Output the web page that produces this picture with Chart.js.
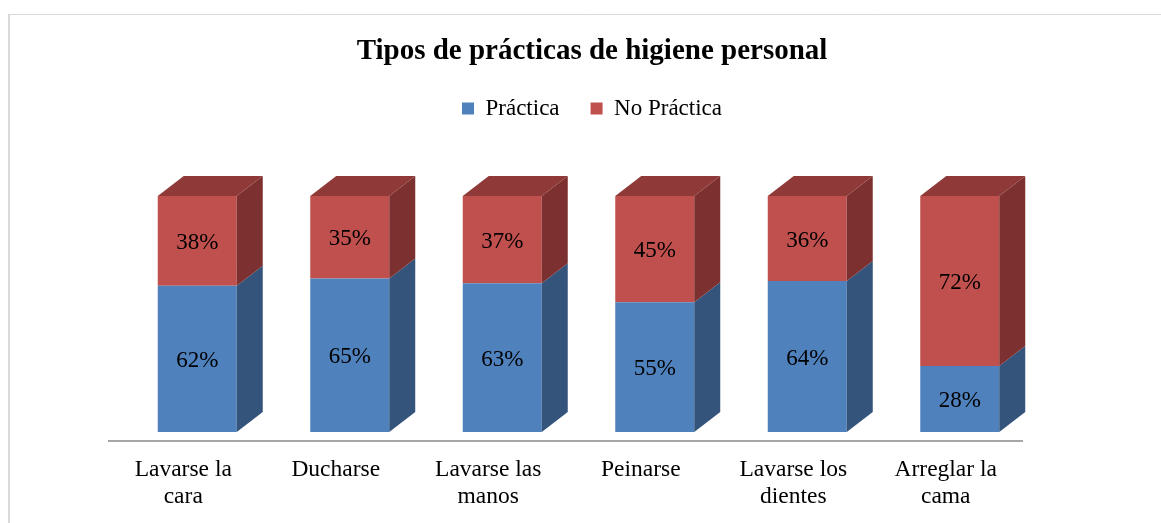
<!DOCTYPE html>
<html>
<head>
<meta charset="utf-8">
<title>Tipos de prácticas de higiene personal</title>
<script src="https://cdn.jsdelivr.net/npm/chart.js@4/dist/chart.umd.min.js"></script>
<style>
  html, body { margin: 0; padding: 0; background: #fff; }
  #wrap { position: relative; width: 1161px; height: 523px; }
</style>
</head>
<body>
<div id="wrap"><canvas id="chart"></canvas></div>
<script>
// --- data ---
const categories = [['Lavarse la', 'cara'], 'Ducharse', ['Lavarse las', 'manos'], 'Peinarse', ['Lavarse los', 'dientes'], ['Arreglar la', 'cama']];
const seriesNames = ['Práctica', 'No Práctica'];
const practica = [62, 65, 63, 55, 64, 28];
const noPractica = [38, 35, 37, 45, 36, 72];

// --- look ---
const serif = "'Liberation Serif', 'Times New Roman', serif";
const depthX = 26, depthY = -20;   // fake 3d offset of the back faces

// white background + the thin grey frame of the chart box
const frame = {
  id: 'frame',
  beforeDraw(chart) {
    const ctx = chart.ctx;
    ctx.save();
    ctx.fillStyle = '#fff';
    ctx.fillRect(0, 0, chart.width, chart.height);
    ctx.strokeStyle = '#D9D9D9';
    ctx.lineWidth = 2;
    ctx.beginPath();
    ctx.moveTo(9, chart.height);
    ctx.lineTo(9, 14.5);
    ctx.stroke();
    ctx.lineWidth = 1;
    ctx.beginPath();
    ctx.moveTo(8, 14.5);
    ctx.lineTo(chart.width, 14.5);
    ctx.stroke();
    ctx.restore();
  }
};

// leave room between the legend and the bars
const legendGap = {
  id: 'legendGap',
  beforeLayout(chart) {
    const legend = chart.legend;
    if (!legend || legend._gapPatched) return;
    const fit = legend.fit;
    legend.fit = function() { fit.call(this); this.height += 66; };
    legend._gapPatched = true;
  }
};

// side + top faces, value labels and the floor line
const bars3d = {
  id: 'bars3d',
  afterDatasetsDraw(chart) {
    const ctx = chart.ctx;
    const area = chart.chartArea;
    const last = chart.data.datasets.length - 1;

    ctx.save();
    ctx.strokeStyle = '#A6A6A6';
    ctx.lineWidth = 2;
    ctx.beginPath();
    ctx.moveTo(area.left - 13, area.bottom + 9);
    ctx.lineTo(area.right - 13, area.bottom + 9);
    ctx.stroke();

    chart.data.datasets.forEach((ds, i) => {
      const meta = chart.getDatasetMeta(i);
      meta.data.forEach((bar, j) => {
        const p = bar.getProps(['x', 'y', 'base', 'width'], true);
        const l = p.x - p.width / 2, r = p.x + p.width / 2;
        const top = Math.min(p.y, p.base), bot = Math.max(p.y, p.base);

        ctx.fillStyle = ds.sideColor;
        ctx.beginPath();
        ctx.moveTo(r, top);
        ctx.lineTo(r + depthX, top + depthY);
        ctx.lineTo(r + depthX, bot + depthY);
        ctx.lineTo(r, bot);
        ctx.closePath();
        ctx.fill();

        if (i === last) {
          ctx.fillStyle = ds.topColor;
          ctx.beginPath();
          ctx.moveTo(l, top);
          ctx.lineTo(l + depthX, top + depthY);
          ctx.lineTo(r + depthX, top + depthY);
          ctx.lineTo(r, top);
          ctx.closePath();
          ctx.fill();
        }

        ctx.fillStyle = '#000';
        ctx.font = '23px ' + serif;
        ctx.textAlign = 'center';
        ctx.textBaseline = 'middle';
        ctx.fillText(ds.data[j] + '%', p.x, (top + bot) / 2 + 2);
      });
    });
    ctx.restore();
  }
};

new Chart(document.getElementById('chart'), {
  type: 'bar',
  data: {
    labels: categories,
    datasets: [{
      label: seriesNames[0],
      data: practica,
      backgroundColor: '#4F81BD',
      sideColor: '#34547C',
      topColor: '#3F6797',
      borderWidth: 0
    }, {
      label: seriesNames[1],
      data: noPractica,
      backgroundColor: '#C0504D',
      sideColor: '#7C302F',
      topColor: '#8F3A38',
      borderWidth: 0
    }]
  },
  options: {
    responsive: true,
    maintainAspectRatio: false,
    animation: false,
    events: [],
    layout: {padding: {top: 0, left: 121, right: 98, bottom: 0}},
    datasets: {bar: {categoryPercentage: 1, barPercentage: 0.518}},
    plugins: {
      title: {
        display: true,
        text: 'Tipos de prácticas de higiene personal',
        color: '#000',
        font: {family: serif, size: 29, weight: 'bold', lineHeight: 1},
        padding: {top: 37, bottom: 0}
      },
      legend: {
        position: 'top',
        labels: {
          color: '#000',
          font: {family: serif, size: 23},
          boxWidth: 12,
          boxHeight: 12,
          padding: 31
        }
      },
      tooltip: {enabled: false}
    },
    scales: {
      x: {
        stacked: true,
        grid: {display: false, drawTicks: false},
        border: {display: false},
        ticks: {
          color: '#000',
          font: {family: serif, size: 23.5, lineHeight: 1.15},
          padding: 24,
          labelOffset: -14,
          maxRotation: 0,
          autoSkip: false
        },
        afterFit(scale) { scale.height = 91; }
      },
      y: {
        stacked: true,
        position: 'right',
        min: 0,
        max: 100,
        grid: {display: false, drawTicks: false},
        border: {display: false},
        ticks: {display: false},
        afterFit(scale) { scale.width = 27; }
      }
    }
  },
  plugins: [frame, legendGap, bars3d]
});
</script>
</body>
</html>
